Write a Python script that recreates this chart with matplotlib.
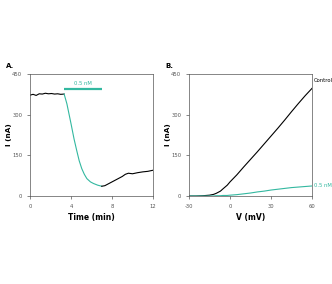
import matplotlib.pyplot as plt

plt.rcParams["axes.unicode_minus"] = False

# panel A: current vs time
t_before = [0, 0.3, 0.6, 0.9, 1.2, 1.5, 1.8, 2.1, 2.4, 2.7, 3.0, 3.33]
i_before = [372, 375, 371, 377, 376, 379, 377, 378, 376, 377, 375, 376]
t_drug = [3.33, 3.6, 4.0, 4.3, 4.55, 4.8, 5.05, 5.3, 5.55, 5.9, 6.2, 6.6, 7.0]
i_drug = [376, 340, 267, 210, 169, 130, 101, 80, 64, 52, 46, 40, 36]
t_after = [7.0, 7.3, 7.6, 8.0, 8.5, 9.0, 9.3, 9.6, 10.0, 10.5, 11.0, 11.5, 12.0]
i_after = [36, 38, 44, 52, 62, 72, 80, 84, 82, 86, 89, 91, 95]
bar_t = [3.33, 7.0]
bar_i = 393

# panel B: current vs voltage
v = [-30, -25, -20, -15, -12, -10, -7, -5, -2, 0, 5, 10, 15, 20, 25, 30, 35, 40, 45, 50, 55, 60]
i_control = [0, 0, 1, 3, 6, 10, 18, 27, 40, 52, 78, 107, 135, 163, 192, 221, 250, 280, 311, 341, 370, 397]
i_nm = [0, 0, 0, 0, 0, 1, 1, 2, 2, 3, 5, 8, 11, 15, 18, 22, 25, 28, 31, 33, 35, 37]

teal = "#33b8a0"
gray = "#555555"

fig = plt.figure(figsize=(3.32, 2.84), dpi=100)
axA = fig.add_axes([30 / 332, 1 - 196 / 284, 123 / 332, 122 / 284])
axB = fig.add_axes([189 / 332, 1 - 196 / 284, 123 / 332, 122 / 284])

axA.plot(t_before, i_before, color="black", lw=0.8)
axA.plot(t_drug, i_drug, color=teal, lw=0.8)
axA.plot(t_after, i_after, color="black", lw=0.8)
axA.plot(bar_t, [bar_i, bar_i], color=teal, lw=1.6, solid_capstyle="butt")
axA.text(sum(bar_t) / 2, bar_i + 12, "0.5 nM", color=teal, fontsize=3.8,
         ha="center", va="bottom")
axA.set_xlim(0, 12)
axA.set_xticks([0, 4, 8, 12])
axA.set_xlabel("Time (min)", fontsize=5.5, fontweight="bold", labelpad=3)

axB.plot(v, i_control, color="black", lw=0.8)
axB.plot(v, i_nm, color=teal, lw=0.8)
axB.text(61.5, i_control[-1] + 30, "Control", color="black", fontsize=3.8,
         ha="left", va="center")
axB.text(61.5, i_nm[-1], "0.5 nM", color=teal, fontsize=3.8,
         ha="left", va="center")
axB.set_xlim(-30, 60)
axB.set_xticks([-30, 0, 30, 60])
axB.set_xlabel("V (mV)", fontsize=5.5, fontweight="bold", labelpad=3)

for ax in (axA, axB):
    ax.set_ylim(0, 450)
    ax.set_yticks([0, 150, 300, 450])
    ax.set_ylabel("I (nA)", fontsize=5.2, fontweight="bold")
    ax.yaxis.set_label_coords(-0.15, 0.5)
    ax.tick_params(labelsize=3.8, labelcolor=gray, length=2.5, width=0.5,
                   direction="out", pad=3, color=gray)
    for s in ax.spines.values():
        s.set_linewidth(0.5)
        s.set_color(gray)

fig.text(6 / 332, 1 - 66 / 284, "A.", fontsize=5, fontweight="bold", va="center")
fig.text(165 / 332, 1 - 66 / 284, "B.", fontsize=5, fontweight="bold", va="center")

fig.savefig("out.png", dpi=100)
